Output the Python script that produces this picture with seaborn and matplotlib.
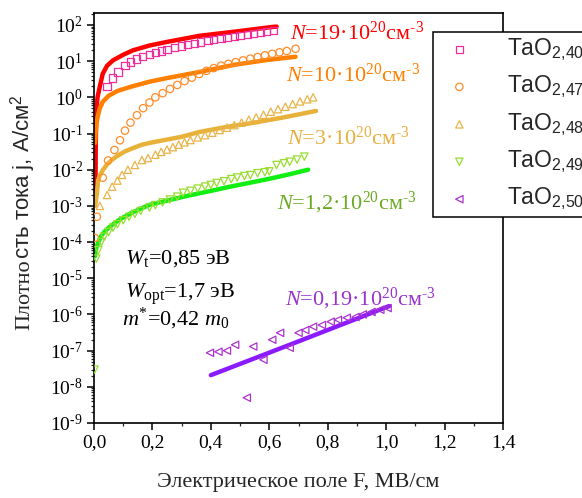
import matplotlib
matplotlib.use("Agg")
import matplotlib.pyplot as plt
import numpy as np
import pandas as pd
import seaborn as sns
from matplotlib.ticker import LogLocator, MultipleLocator, FuncFormatter, NullFormatter

# ---------------- data ----------------
# model curves (solid lines)
red_line_F = [0.005, 0.006, 0.008, 0.012, 0.02, 0.03, 0.045, 0.065, 0.10, 0.134, 0.19, 0.25, 0.36, 0.48, 0.61, 0.625]
red_line_j = [2.5e-3, 5e-2, 0.4, 1.0, 2.0, 4.5, 7.5, 10.5, 15, 20, 27, 34, 50, 65, 88, 90]

orange_line_F = [0.004, 0.006, 0.009, 0.013, 0.02, 0.03, 0.05, 0.08, 0.13, 0.19, 0.25, 0.36, 0.48, 0.59, 0.69]
orange_line_j = [0.055, 0.12, 0.2, 0.3, 0.5, 0.75, 1.1, 1.5, 2.0, 2.7, 3.4, 5.0, 7.9, 10.7, 13.2]

gold_line_F = [0.004, 0.007, 0.01, 0.014, 0.02, 0.031, 0.045, 0.062, 0.08, 0.106, 0.135, 0.164, 0.2, 0.25, 0.3, 0.36, 0.45, 0.55, 0.65, 0.76]
gold_line_j = [1e-3, 1.5e-3, 2.2e-3, 5e-3, 7e-3, 1e-2, 1.4e-2, 1.9e-2, 2.4e-2, 3.2e-2, 4e-2, 4.9e-2, 5.7e-2, 6.8e-2, 8.1e-2, 0.11, 0.15, 0.2, 0.28, 0.42]

green_line_F = [0.003, 0.008, 0.015, 0.025, 0.04, 0.06, 0.09, 0.13, 0.19, 0.25, 0.32, 0.41, 0.466, 0.53, 0.6, 0.67, 0.733]
green_line_j = [4e-5, 7e-5, 1e-4, 1.5e-4, 2.1e-4, 2.9e-4, 4.3e-4, 6.5e-4, 1.07e-3, 1.4e-3, 1.9e-3, 2.7e-3, 3.4e-3, 4.3e-3, 5.6e-3, 7.5e-3, 1e-2]

purple_line_F = [0.40, 0.70, 1.01]
purple_line_j = [2.1e-8, 1.8e-7, 1.7e-6]

# experimental points
tao240_F = [0.044, 0.063, 0.082, 0.106, 0.125, 0.145, 0.165, 0.19, 0.21, 0.23, 0.25, 0.275, 0.3, 0.32,
            0.345, 0.365, 0.39, 0.41, 0.435, 0.455, 0.48, 0.5, 0.525, 0.545, 0.57, 0.59, 0.615]
tao240_j = [1.95, 3.4, 5.0, 7.5, 9.5, 11.5, 13.5, 15.5, 17.5, 19, 21, 23.5, 26, 28.5,
            31, 34, 37, 39.5, 42, 45, 48, 51, 54, 57, 61, 65, 70]

tao247_F = [0.003, 0.01, 0.03, 0.048, 0.07, 0.089, 0.106, 0.125, 0.147, 0.168, 0.19, 0.21, 0.235, 0.26,
            0.285, 0.31, 0.335, 0.36, 0.385, 0.41, 0.435, 0.46, 0.485, 0.51, 0.535, 0.56, 0.585, 0.61,
            0.635, 0.66, 0.69]
tao247_j = [1.3e-4, 5e-4, 6e-3, 1.8e-2, 3.5e-2, 6.5e-2, 0.12, 0.2, 0.32, 0.5, 0.72, 1.0, 1.3, 1.7,
            2.2, 2.8, 3.5, 4.4, 5.4, 6.4, 7.5, 8.4, 9.4, 10.5, 11.7, 13, 14.5, 16,
            17.5, 19, 22]

tao248_F = [0.02, 0.045, 0.062, 0.08, 0.096, 0.116, 0.14, 0.164, 0.185, 0.21, 0.23, 0.25, 0.27, 0.29,
            0.31, 0.33, 0.355, 0.38, 0.405, 0.43, 0.455, 0.48, 0.505, 0.53, 0.555, 0.58, 0.605,
            0.63, 0.655, 0.68, 0.705, 0.73, 0.75]
tao248_j = [1e-3, 2e-3, 3.4e-3, 5e-3, 7.2e-3, 1e-2, 1.35e-2, 1.85e-2, 2.1e-2, 2.6e-2, 3.1e-2, 3.6e-2, 4.2e-2, 4.9e-2,
            5.7e-2, 6.6e-2, 7.8e-2, 9e-2, 0.105, 0.125, 0.145, 0.17, 0.2, 0.24, 0.28, 0.33, 0.4,
            0.47, 0.55, 0.65, 0.77, 0.88, 1.0]

tao249_F = [0.002, 0.008, 0.015, 0.025, 0.035, 0.05, 0.065, 0.08, 0.1, 0.12, 0.14, 0.16, 0.19, 0.21,
            0.235, 0.26, 0.285, 0.305, 0.33, 0.355, 0.38, 0.4, 0.42, 0.445, 0.47, 0.49, 0.515, 0.535,
            0.56, 0.585, 0.6, 0.625, 0.65, 0.67, 0.695, 0.72]
tao249_j = [3e-8, 3.5e-5, 6e-5, 1e-4, 1.4e-4, 1.9e-4, 2.5e-4, 3.1e-4, 4e-4, 5e-4, 6e-4, 7.3e-4, 9e-4, 1.05e-3,
            1.25e-3, 1.5e-3, 1.8e-3, 2.3e-3, 2.6e-3, 3e-3, 3.4e-3, 3.8e-3, 4.3e-3, 4.8e-3, 5.5e-3, 6.1e-3, 6.7e-3, 7.1e-3,
            8e-3, 8.5e-3, 9e-3, 1.35e-2, 1.5e-2, 1.66e-2, 1.9e-2, 2.3e-2]

tao250_F = [0.397, 0.426, 0.455, 0.483, 0.523, 0.545, 0.58, 0.61, 0.637, 0.67, 0.70, 0.723, 0.75, 0.78,
            0.81, 0.835, 0.865, 0.895, 0.92, 0.95, 0.98, 1.005]
tao250_j = [8.7e-8, 9.3e-8, 1e-7, 1.45e-7, 5e-9, 1.3e-7, 5.6e-8, 2e-7, 3.1e-7, 1.2e-7, 3.1e-7, 3.7e-7, 4.6e-7, 5.1e-7,
            6.3e-7, 7.1e-7, 8.1e-7, 8.5e-7, 1e-6, 1.17e-6, 1.35e-6, 1.5e-6]

HY = "\u2010"  # short hyphen used in the superscripts of the reference
legend_labels = ["TaO$_{\\mathdefault{2{,}40}}$", "TaO$_{\\mathdefault{2{,}47}}$", "TaO$_{\\mathdefault{2{,}48}}$",
                 "TaO$_{\\mathdefault{2{,}49}}$", "TaO$_{\\mathdefault{2{,}50}}$"]
curve_labels = ["$N$=19·10$^{20}$см$^{" + HY + "3}$", "$N$=10·10$^{20}$см$^{" + HY + "3}$",
                "$N$=3·10$^{20}$см$^{" + HY + "3}$", "$N$=1,2·10$^{20}$см$^{" + HY + "3}$",
                "$N$=0,19·10$^{20}$см$^{" + HY + "3}$"]
param_labels = ["$W_{\\mathrm{t}}$=0,85 эВ", "$W_{\\mathrm{opt}}$=1,7 эВ", "$m^{*}$=0,42 $m_{0}$"]

# ---------------- style ----------------
sns.set_style("ticks")
plt.rcParams["font.family"] = ["Liberation Serif", "DejaVu Serif"]
plt.rcParams["mathtext.fontset"] = "custom"
plt.rcParams["mathtext.rm"] = "Liberation Serif"
plt.rcParams["mathtext.it"] = "Liberation Serif:italic"
plt.rcParams["mathtext.bf"] = "Liberation Serif:bold"

line_colors = ["#ff0000", "#ff8000", "#e8b23a", "#11ee11", "#8c1aff"]
marker_colors = ["#ee2e9a", "#ff8c2a", "#e8b44a", "#99dd33", "#aa33cc"]
text_colors = ["#ff0000", "#ff8000", "#e8b040", "#6aaa22", "#9933cc"]
markers = ["s", "o", "^", "v", "<"]

fig = plt.figure(figsize=(5.82, 4.98), dpi=100)
ax = fig.add_axes([94 / 582, 1 - 423 / 498, 409 / 582, 410 / 498])

lines = [(red_line_F, red_line_j), (orange_line_F, orange_line_j), (gold_line_F, gold_line_j),
         (green_line_F, green_line_j), (purple_line_F, purple_line_j)]
points = [(tao240_F, tao240_j), (tao247_F, tao247_j), (tao248_F, tao248_j),
          (tao249_F, tao249_j), (tao250_F, tao250_j)]

for (F, j), c in zip(lines, line_colors):
    df = pd.DataFrame({"F": F, "j": j})
    sns.lineplot(data=df, x="F", y="j", color=c, linewidth=3.2, sort=False,
                 estimator=None, ax=ax, zorder=2)

handles = []
for (F, j), c, m in zip(points, marker_colors, markers):
    df = pd.DataFrame({"F": F, "j": j})
    sns.scatterplot(data=df, x="F", y="j", marker=m, s=28, facecolor="none",
                    edgecolor=c, color=c, linewidth=0.9, ax=ax, zorder=3)
    handles.append(ax.collections[-1])

ax.set_yscale("log")
ax.set_xlim(0, 1.4)
ax.set_ylim(1e-9, 10 ** 2.33)

ax.yaxis.set_major_locator(LogLocator(base=10, numticks=30))
ax.yaxis.set_minor_locator(LogLocator(base=10, subs=np.arange(2, 10), numticks=200))


def yfmt(v, p):
    e = int(round(np.log10(v)))
    s = str(e) if e >= 0 else HY + str(-e)
    return "$\\mathdefault{10^{" + s + "}}$"


ax.yaxis.set_major_formatter(FuncFormatter(yfmt))
ax.yaxis.set_minor_formatter(NullFormatter())
ax.xaxis.set_major_locator(MultipleLocator(0.2))
ax.xaxis.set_minor_locator(MultipleLocator(0.1))
ax.xaxis.set_major_formatter(FuncFormatter(lambda v, p: ("%.1f" % v).replace(".", ",")))

ax.tick_params(which="major", direction="out", length=5, width=1.1, labelsize=14, pad=3, colors="black")
ax.tick_params(which="minor", direction="out", length=2.5, width=0.9)
for sp in ax.spines.values():
    sp.set_visible(True)
    sp.set_linewidth(1.2)
    sp.set_color("black")

ax.set_xlabel("Электрическое поле F, МВ/см", fontsize=16, labelpad=16)
ax.set_ylabel("")

# curve annotations (axes fraction)
curve_pos = [(0.479, 0.934), (0.469, 0.832), (0.472, 0.678), (0.447, 0.520), (0.467, 0.288)]
for (xa, ya), lab, c in zip(curve_pos, curve_labels, text_colors):
    ax.text(xa, ya, lab, transform=ax.transAxes, color=c, fontsize=16, ha="left", va="baseline")

param_pos = [(0.076, 0.390), (0.076, 0.305), (0.068, 0.239)]
for (xa, ya), lab in zip(param_pos, param_labels):
    ax.text(xa, ya, lab, transform=ax.transAxes, color="black", fontsize=16, ha="left", va="baseline")

# legend (runs past the right edge, as in the reference)
leg = ax.legend(handles, legend_labels, loc="upper left",
                bbox_to_anchor=(433 / 582, 1 - 32 / 498), bbox_transform=fig.transFigure,
                borderaxespad=0, borderpad=0.2, handlelength=1.9, handletextpad=1.15,
                labelspacing=0.49, scatterpoints=1, fancybox=False, framealpha=1,
                edgecolor="black", prop={"family": "Liberation Sans", "size": 16.5})
leg.get_frame().set_linewidth(1.1)

# y label: serif start, sans remainder
bx, by = 29 / 582, 1 - 330 / 498
t1 = fig.text(bx, by, "Плотно", rotation=90, rotation_mode="anchor", ha="left", va="baseline",
              fontsize=16, family="Liberation Serif")
fig.canvas.draw()
h1 = t1.get_window_extent().height
fig.text(bx, by + h1 / 498, "сть тока j, А/см$^{\\mathdefault{2}}$", rotation=90, rotation_mode="anchor",
         ha="left", va="baseline", fontsize=16, family="Liberation Sans")

fig.savefig("out.png", dpi=100)
